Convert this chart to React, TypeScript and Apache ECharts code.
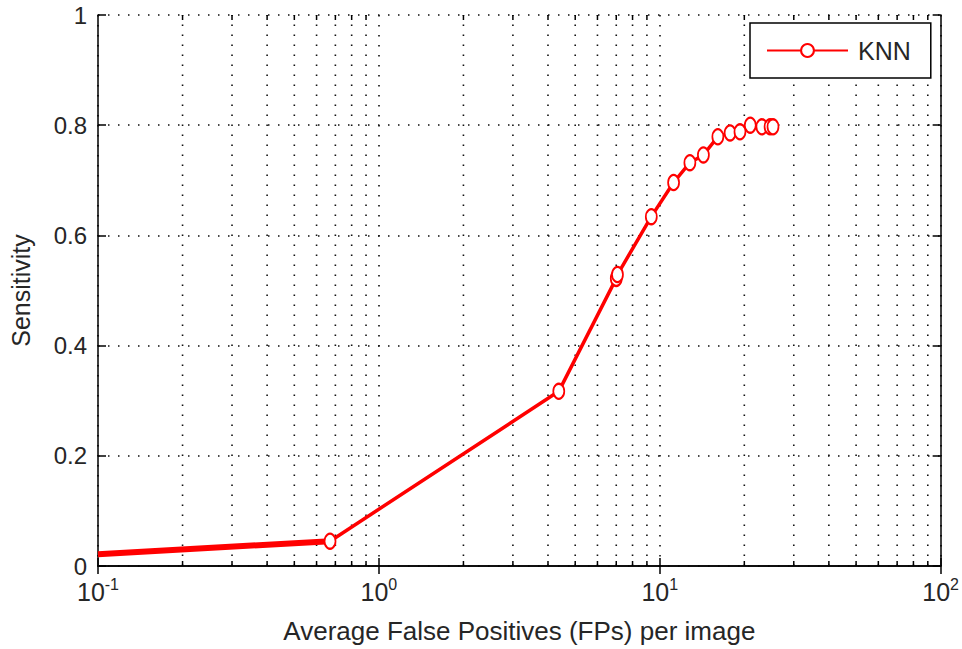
import React, { useEffect, useRef } from "react";
import * as echarts from "echarts";

// KNN FROC-style curve
const fpValues = [0.67, 4.37, 7.0, 7.07, 9.33, 11.2, 12.8, 14.3, 16.1, 17.8, 19.3, 21.0, 23.1, 24.7, 25.3];
const sensValues = [0.045, 0.317, 0.522, 0.529, 0.634, 0.696, 0.732, 0.746, 0.779, 0.786, 0.788, 0.8, 0.797, 0.797, 0.797];
// thick low-FP tail entering from the left edge
const tailFp = [0.1, 0.67];
const tailSens = [0.0215, 0.045];
// minor grid positions of the log x axis
const minorTicks = [
  0.2, 0.3, 0.4, 0.5, 0.6, 0.7, 0.8, 0.9,
  2, 3, 4, 5, 6, 7, 8, 9,
  20, 30, 40, 50, 60, 70, 80, 90,
];
const yTicks = [0, 0.2, 0.4, 0.6, 0.8, 1];
const seriesName = "KNN";

const FONT = "'Liberation Sans', Arial, sans-serif";
const TXT = "#262626";
const DOT = [1.5, 8.5];

export default function App() {
  const ref = useRef<HTMLDivElement>(null);
  useEffect(() => {
    if (!ref.current) return;
    const chart = echarts.init(ref.current, undefined, { renderer: "svg" });
    const axisLine = { show: true, lineStyle: { color: "#000", width: 1.5 } };
    const option: any = {
      animation: false,
      backgroundColor: "#fff",
      textStyle: { fontFamily: FONT },
      grid: { left: 96, top: 15, right: 21, bottom: 82, containLabel: false },
      legend: {
        data: [seriesName],
        left: 750,
        top: 23,
        padding: [15, 20, 15, 16],
        itemWidth: 81,
        itemHeight: 16,
        itemGap: 0,
        borderColor: "#000",
        borderWidth: 1.5,
        borderRadius: 0,
        backgroundColor: "#fff",
        textStyle: { fontFamily: FONT, fontSize: 25, color: TXT, padding: [0, 0, 0, 5] },
      },
      xAxis: [
        {
          type: "log",
          logBase: 10,
          min: 0.1,
          max: 100,
          name: "Average False Positives (FPs) per image",
          nameLocation: "middle",
          nameGap: 52,
          nameTextStyle: { fontFamily: FONT, fontSize: 26, color: TXT },
          axisLine,
          axisTick: { show: true, inside: true, length: 8, lineStyle: { color: "#000", width: 1.5 } },
          axisLabel: {
            margin: 10,
            color: TXT,
            formatter: (v: number) => `{b|10}{s|${Math.round(Math.log10(v))}}`,
            rich: {
              b: { fontFamily: FONT, fontSize: 25, color: TXT, verticalAlign: "bottom" },
              s: { fontFamily: FONT, fontSize: 16, color: TXT, verticalAlign: "bottom", padding: [0, 0, 12, 0] },
            },
          },
          splitLine: { show: true, lineStyle: { color: "#111", width: 1.6, type: DOT } },
        },
        {
          type: "log",
          logBase: 10,
          min: 0.1,
          max: 100,
          position: "top",
          axisLine,
          axisTick: { show: true, inside: true, length: 8, lineStyle: { color: "#000", width: 1.5 } },
          axisLabel: { show: false },
          splitLine: { show: false },
        },
      ],
      yAxis: [
        {
          type: "value",
          min: 0,
          max: 1,
          interval: 0.2,
          name: "Sensitivity",
          nameLocation: "middle",
          nameGap: 65,
          nameTextStyle: { fontFamily: FONT, fontSize: 25, color: TXT },
          axisLine,
          axisTick: { show: true, inside: true, length: 8, lineStyle: { color: "#000", width: 1.5 } },
          axisLabel: {
            margin: 11,
            fontFamily: FONT,
            fontSize: 24,
            color: TXT,
            formatter: (v: number) => (yTicks.includes(Number(v.toFixed(1))) ? String(Number(v.toFixed(1))) : ""),
          },
          splitLine: { show: true, lineStyle: { color: "#111", width: 1.6, type: DOT } },
        },
        {
          type: "value",
          min: 0,
          max: 1,
          interval: 0.2,
          position: "right",
          axisLine,
          axisTick: { show: true, inside: true, length: 8, lineStyle: { color: "#000", width: 1.5 } },
          axisLabel: { show: false },
          splitLine: { show: false },
        },
      ],
      series: [
        {
          type: "custom",
          name: "minorGrid",
          xAxisIndex: 0,
          yAxisIndex: 0,
          silent: true,
          z: 1,
          data: minorTicks.map((v) => [v]),
          renderItem: (params: any, api: any) => {
            const v = api.value(0);
            const b = api.coord([v, 0]);
            const t = api.coord([v, 1]);
            return {
              type: "group",
              children: [
                {
                  type: "line",
                  shape: { x1: b[0], y1: b[1], x2: t[0], y2: t[1] },
                  style: { stroke: "#111", lineWidth: 1.6, lineDash: DOT },
                },
                {
                  type: "line",
                  shape: { x1: b[0], y1: b[1], x2: b[0], y2: b[1] - 5 },
                  style: { stroke: "#000", lineWidth: 1.5 },
                },
                {
                  type: "line",
                  shape: { x1: t[0], y1: t[1], x2: t[0], y2: t[1] + 5 },
                  style: { stroke: "#000", lineWidth: 1.5 },
                },
              ],
            };
          },
        },
        {
          type: "line",
          name: "tail",
          data: tailFp.map((x, i) => [x, tailSens[i]]),
          symbol: "none",
          lineStyle: { color: "#ff0000", width: 6 },
          z: 3,
          silent: true,
        },
        {
          type: "line",
          name: seriesName,
          data: fpValues.map((x, i) => [x, sensValues[i]]),
          symbol: "emptyCircle",
          symbolSize: [11, 15],
          color: "#ff0000",
          itemStyle: { color: "#ff0000", borderColor: "#ff0000", borderWidth: 3 },
          lineStyle: { color: "#ff0000", width: 3.5 },
          z: 4,
        },
      ],
    };
    chart.setOption(option);
    return () => chart.dispose();
  }, []);
  return (
    <div
      ref={ref}
      style={{ position: "fixed", left: 0, top: 0, width: 962, height: 649, background: "#fff" }}
    />
  );
}
